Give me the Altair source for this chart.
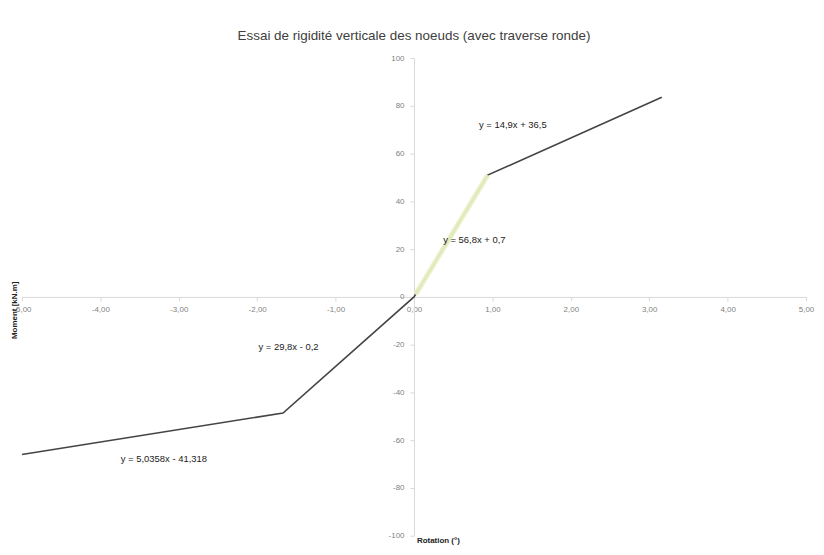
import altair as alt
import pandas as pd

# measured curve (rotation in degrees, moment in kN.m)
rotation = [-5.0, -1.67, 0.0, 0.94, 3.16]
moment = [-66.0, -48.6, 0.0, 51.0, 83.6]

# highlighted linear trend segment near origin
trend_x = [0.02, 0.94]
trend_y = [1.0, 51.0]

# trendline equation labels
eq_text = ["y = 14,9x + 36,5", "y = 56,8x + 0,7", "y = 29,8x - 0,2", "y = 5,0358x - 41,318"]
eq_x = [1.26, 0.77, -1.6, -3.19]
eq_y = [72.0, 24.0, -21.0, -68.0]

x_ticks = [-5, -4, -3, -2, -1, 0, 1, 2, 3, 4, 5]
y_ticks = [-100, -80, -60, -40, -20, 0, 20, 40, 60, 80, 100]

W, H = 788, 480
FONT = "Liberation Sans"

curve = pd.DataFrame({"x": rotation, "y": moment})
trend = pd.DataFrame({"x": trend_x, "y": trend_y})
eqs = pd.DataFrame({"x": eq_x, "y": eq_y, "t": eq_text})

xscale = alt.Scale(domain=[-5, 5], nice=False, zero=False)
yscale = alt.Scale(domain=[-100, 100], nice=False, zero=False)

xaxis = alt.Axis(
    values=x_ticks, offset=-H / 2, grid=False,
    labelExpr="replace(replace(format(datum.value, '.2f'), '.', ','), '\u2212', '-')",
    labelColor="#7f7f7f", labelFontSize=8, labelFont=FONT, labelPadding=5,
    domainColor="#d9d9d9", tickColor="#d9d9d9", tickSize=4,
    title="Rotation (°)", titleFontSize=8, titleFont=FONT, titleFontWeight="bold",
    titleColor="#222222", titleX=418, titleY=249, titleBaseline="bottom",
    labelFlush=False, labelOverlap=False,
)
yaxis = alt.Axis(
    values=y_ticks, offset=-W / 2, grid=False,
    labelExpr="replace(format(datum.value, 'd'), '\u2212', '-')",
    labelColor="#7f7f7f", labelFontSize=8, labelFont=FONT, labelPadding=6,
    domainColor="#d9d9d9", tickColor="#d9d9d9", tickSize=4,
    title="Moment [kN.m]", titleFontSize=8, titleFont=FONT, titleFontWeight="bold",
    titleColor="#222222", titleX=-401, titleY=253, titleAngle=-90,
    titleAlign="center", titleBaseline="middle",
    labelFlush=False, labelOverlap=False,
)

line = alt.Chart(curve).mark_line(color="#444444", strokeWidth=1.6).encode(
    x=alt.X("x:Q", scale=xscale, axis=xaxis),
    y=alt.Y("y:Q", scale=yscale, axis=yaxis),
)
tr = alt.Chart(trend).mark_line(color="#e9efc2", strokeWidth=5, opacity=0.95).encode(
    x=alt.X("x:Q", scale=xscale), y=alt.Y("y:Q", scale=yscale)
)
labels = alt.Chart(eqs).mark_text(fontSize=9.5, font=FONT, color="#222222").encode(
    x=alt.X("x:Q", scale=xscale), y=alt.Y("y:Q", scale=yscale), text="t:N"
)

chart = alt.layer(line, tr, labels).properties(
    width=W, height=H,
    autosize=alt.AutoSizeParams(type="none"),
    padding={"left": 14, "top": 49, "right": 10, "bottom": 12},
    title=alt.TitleParams(
        "Essai de rigidité verticale des noeuds (avec traverse ronde)",
        fontSize=13.5, font=FONT, fontWeight="normal", color="#404040", offset=12,
    ),
).configure_view(stroke=None)

chart.save("out.html", embed_options={"renderer": "svg", "actions": False})
